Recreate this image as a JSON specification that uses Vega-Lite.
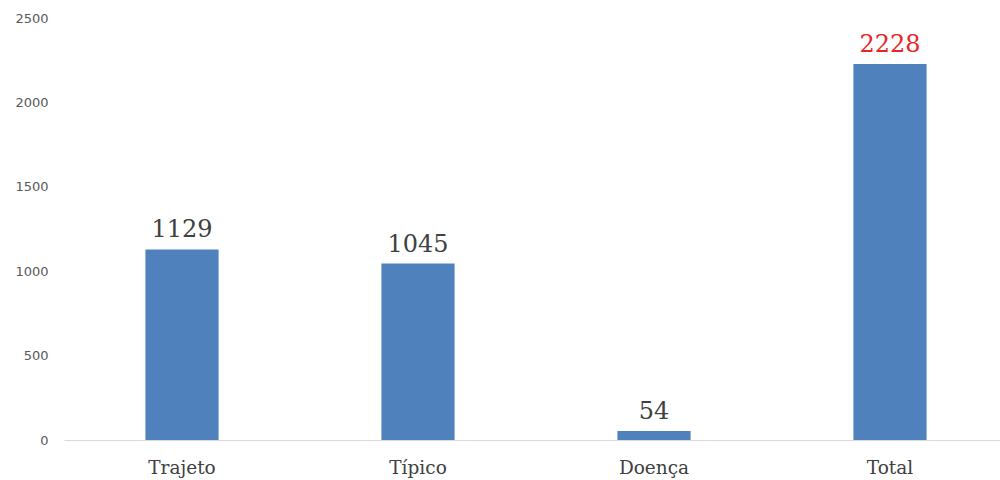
{
  "$schema": "https://vega.github.io/schema/vega-lite/v6.json",
  "autosize": "none",
  "width": 936,
  "height": 422,
  "padding": {"left": 64, "top": 18, "right": 0, "bottom": 40},
  "background": "white",
  "config": {"view": {"stroke": null}},
  "data": {
    "values": [
      {"cat": "Trajeto", "value": 1129, "total": false},
      {"cat": "Típico", "value": 1045, "total": false},
      {"cat": "Doença", "value": 54, "total": false},
      {"cat": "Total", "value": 2228, "total": true}
    ]
  },
  "encoding": {
    "x": {
      "field": "cat",
      "type": "nominal",
      "sort": null,
      "title": null,
      "scale": {"range": [0, 944], "paddingInner": 0.69, "paddingOuter": 0.345},
      "axis": {
        "labelAngle": 0,
        "ticks": false,
        "domainColor": "#d9d9d9",
        "domainWidth": 1,
        "labelFont": "DejaVu Serif",
        "labelFontSize": 18.5,
        "labelColor": "#404040",
        "labelPadding": 18
      }
    },
    "y": {
      "field": "value",
      "type": "quantitative",
      "title": null,
      "scale": {"domain": [0, 2500], "nice": false},
      "axis": {
        "values": [0, 500, 1000, 1500, 2000, 2500],
        "format": "d",
        "grid": false,
        "domain": false,
        "ticks": false,
        "labelFont": "DejaVu Sans",
        "labelFontSize": 13,
        "labelColor": "#595959",
        "labelPadding": 16
      }
    }
  },
  "layer": [
    {"mark": {"type": "bar", "color": "#4f81bd"}},
    {
      "mark": {"type": "text", "baseline": "alphabetic", "dy": -12, "font": "DejaVu Serif", "fontSize": 24},
      "encoding": {
        "text": {"field": "value", "type": "quantitative", "format": "d"},
        "color": {
          "field": "total",
          "type": "nominal",
          "scale": {"domain": [false, true], "range": ["#404040", "#e8262a"]},
          "legend": null
        }
      }
    }
  ]
}
